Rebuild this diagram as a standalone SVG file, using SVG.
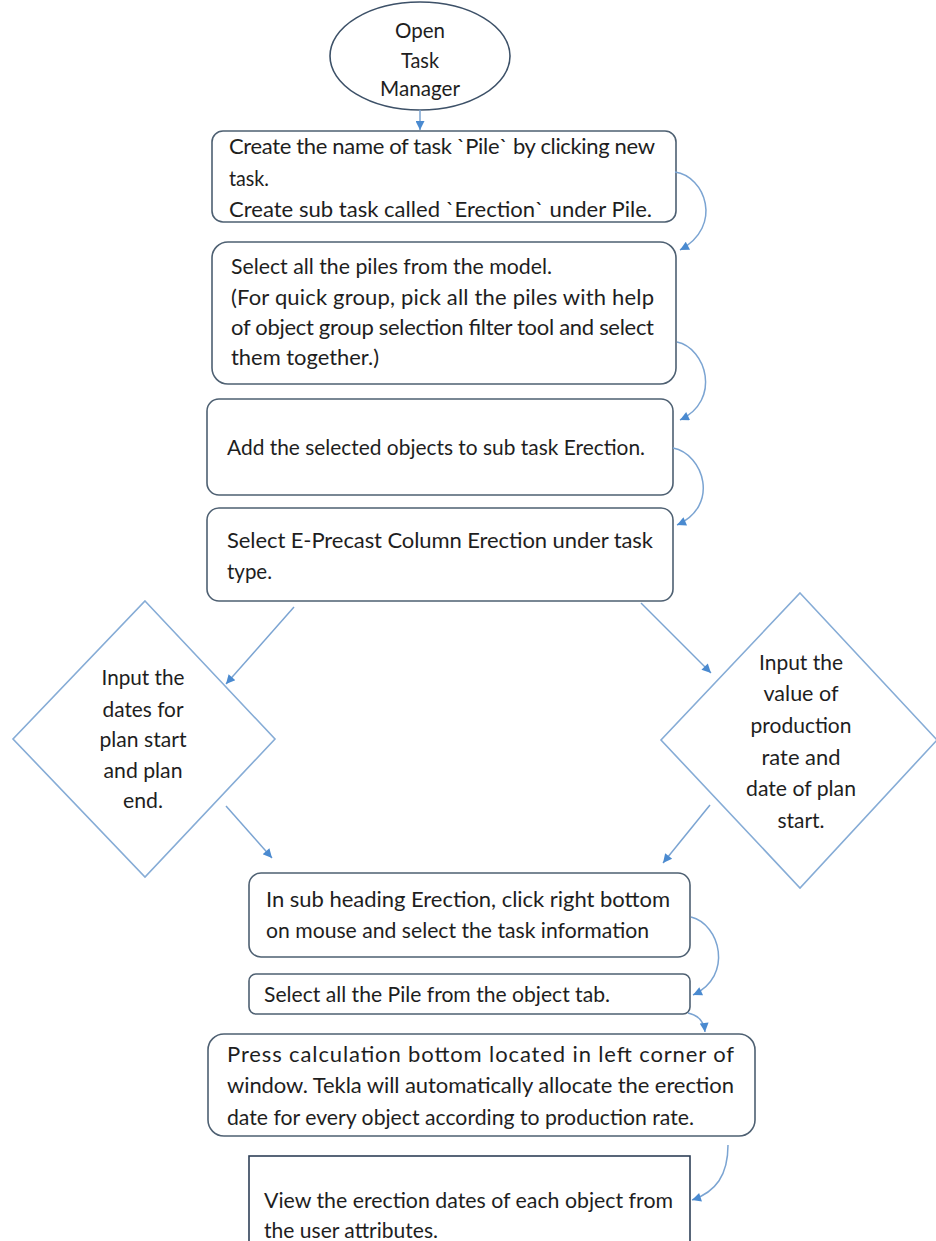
<svg xmlns="http://www.w3.org/2000/svg" width="936" height="1241" viewBox="0 0 936 1241">
<style>
.bg{fill:#ffffff}
.box{fill:#ffffff;stroke:#4e6072;stroke-width:1.6}
.ell{fill:#ffffff;stroke:#3d5168;stroke-width:1.6}
.dia{fill:#ffffff;stroke:#86acd6;stroke-width:1.6}
.sq{fill:#ffffff;stroke:#2f4058;stroke-width:1.6}
.t{font-family:Lato,"Open Sans","Liberation Sans",sans-serif;font-size:22px;fill:#1e1e1e}
.c{text-anchor:middle}
.con{fill:none;stroke:#7ba4d2;stroke-width:1.5;marker-end:url(#ah)}
</style>
<defs>
<marker id="ah" viewBox="0 0 10 10" refX="10" refY="5" markerWidth="12" markerHeight="9" markerUnits="userSpaceOnUse" orient="auto">
<path d="M0,0 L10,5 L0,10 z" fill="#4a8ad0"/>
</marker>
</defs>
<rect class="bg" x="0" y="0" width="936" height="1241"/>

<g id="start">
<ellipse class="ell" cx="420" cy="56" rx="90" ry="54"/>
<text class="t c" x="420" y="38" textLength="50" lengthAdjust="spacingAndGlyphs">Open</text>
<text class="t c" x="420" y="68" textLength="38" lengthAdjust="spacingAndGlyphs">Task</text>
<text class="t c" x="420" y="96" textLength="80" lengthAdjust="spacingAndGlyphs">Manager</text>
</g>

<g id="n1">
<rect class="box" x="212" y="131" width="464" height="91" rx="11"/>
<text class="t" x="229" y="154" textLength="426">Create the name of task `Pile` by clicking new</text>
<text class="t" x="229" y="186" textLength="40" lengthAdjust="spacingAndGlyphs">task.</text>
<text class="t" x="229" y="217" textLength="423" lengthAdjust="spacingAndGlyphs">Create sub task called `Erection` under Pile.</text>
</g>

<g id="n2">
<rect class="box" x="212" y="242" width="464" height="142" rx="16"/>
<text class="t" x="231" y="274" textLength="321" lengthAdjust="spacingAndGlyphs">Select all the piles from the model.</text>
<text class="t" x="231" y="305" textLength="423">(For quick group, pick all the piles with help</text>
<text class="t" x="231" y="335" textLength="423">of object group selection filter tool and select</text>
<text class="t" x="231" y="365" textLength="148" lengthAdjust="spacingAndGlyphs">them together.)</text>
</g>

<g id="n3">
<rect class="box" x="207" y="399" width="466" height="96" rx="12"/>
<text class="t" x="227" y="455" textLength="418" lengthAdjust="spacingAndGlyphs">Add the selected objects to sub task Erection.</text>
</g>

<g id="n4">
<rect class="box" x="207" y="508" width="466" height="93" rx="12"/>
<text class="t" x="227" y="548" textLength="426">Select E-Precast Column Erection under task</text>
<text class="t" x="227" y="579" textLength="45" lengthAdjust="spacingAndGlyphs">type.</text>
</g>

<g id="d1">
<polygon class="dia" points="145,601 275,739 145,877 13,739"/>
<text class="t c" x="143" y="685" textLength="83" lengthAdjust="spacingAndGlyphs">Input the</text>
<text class="t c" x="143" y="717" textLength="81" lengthAdjust="spacingAndGlyphs">dates for</text>
<text class="t c" x="143" y="747" textLength="87" lengthAdjust="spacingAndGlyphs">plan start</text>
<text class="t c" x="143" y="778" textLength="79" lengthAdjust="spacingAndGlyphs">and plan</text>
<text class="t c" x="143" y="808" textLength="40" lengthAdjust="spacingAndGlyphs">end.</text>
</g>

<g id="d2">
<polygon class="dia" points="800,593 937,740 800,888 661,740"/>
<text class="t c" x="801" y="670" textLength="84" lengthAdjust="spacingAndGlyphs">Input the</text>
<text class="t c" x="801" y="701" textLength="75" lengthAdjust="spacingAndGlyphs">value of</text>
<text class="t c" x="801" y="733" textLength="101" lengthAdjust="spacingAndGlyphs">production</text>
<text class="t c" x="801" y="765" textLength="79" lengthAdjust="spacingAndGlyphs">rate and</text>
<text class="t c" x="801" y="796" textLength="110" lengthAdjust="spacingAndGlyphs">date of plan</text>
<text class="t c" x="801" y="828" textLength="47" lengthAdjust="spacingAndGlyphs">start.</text>
</g>

<g id="n5">
<rect class="box" x="249" y="873" width="441" height="84" rx="12"/>
<text class="t" x="266" y="907" textLength="404">In sub heading Erection, click right bottom</text>
<text class="t" x="266" y="938" textLength="383" lengthAdjust="spacingAndGlyphs">on mouse and select the task information</text>
</g>

<g id="n6">
<rect class="box" x="249" y="974" width="441" height="40" rx="7"/>
<text class="t" x="264" y="1002" textLength="346" lengthAdjust="spacingAndGlyphs">Select all the Pile from the object tab.</text>
</g>

<g id="n7">
<rect class="box" x="208" y="1034" width="547" height="102" rx="16"/>
<text class="t" x="227" y="1062" textLength="507">Press calculation bottom located in left corner of</text>
<text class="t" x="227" y="1093" textLength="507">window. Tekla will automatically allocate the erection</text>
<text class="t" x="227" y="1125" textLength="467" lengthAdjust="spacingAndGlyphs">date for every object according to production rate.</text>
</g>

<g id="n8">
<rect class="sq" x="249" y="1156" width="441" height="100"/>
<text class="t" x="264" y="1208" textLength="409" lengthAdjust="spacingAndGlyphs">View the erection dates of each object from</text>
<text class="t" x="264" y="1238" textLength="174" lengthAdjust="spacingAndGlyphs">the user attributes.</text>
</g>

<g id="connectors">
<path class="con" d="M420,110 L420,130"/>
<path class="con" d="M675,172 C705,176 724,226 680,250"/>
<path class="con" d="M677,342 C706,348 722,400 680,420"/>
<path class="con" d="M673,448 C704,454 720,506 677,525"/>
<path class="con" d="M294,607 L226,684"/>
<path class="con" d="M641,603 L711,673"/>
<path class="con" d="M226,806 L272,858"/>
<path class="con" d="M710,805 L663,863"/>
<path class="con" d="M691,917 C720,924 734,976 693,995"/>
<path class="con" d="M688,1013 C698,1015 704,1022 705,1032"/>
<path class="con" d="M728,1145 C728,1175 716,1192 692,1200"/>
</g>
</svg>
